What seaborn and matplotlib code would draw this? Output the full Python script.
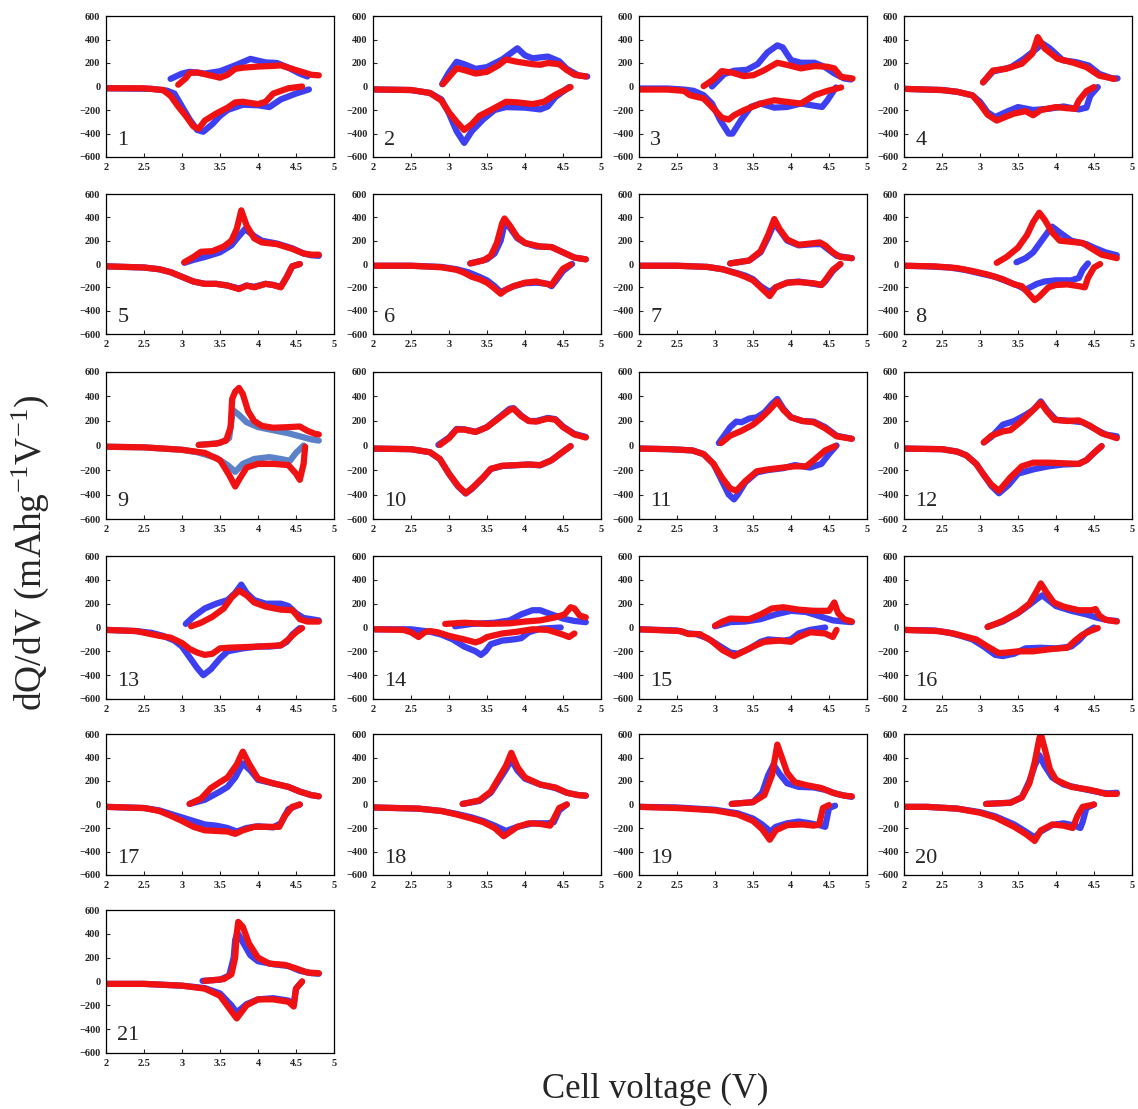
import pandas as pd
import matplotlib
matplotlib.use("Agg")
import matplotlib.pyplot as plt
import seaborn as sns

# (voltage, dQ/dV); b = blue, r = red, u = charge branch, d = discharge branch
b1u = [(2.85, 65), (3.0, 110), (3.1, 125), (3.3, 110), (3.5, 130), (3.7, 180), (3.9, 235), (4.0, 220), (4.1, 205), (4.25, 200), (4.4, 160), (4.55, 110), (4.65, 85)]
b1d = [(4.67, -25), (4.5, -60), (4.3, -110), (4.15, -175), (4.0, -160), (3.8, -155), (3.6, -200), (3.5, -250), (3.4, -320), (3.28, -385), (3.2, -370), (3.1, -280), (3.0, -170), (2.9, -60), (2.8, -35), (2.6, -20), (2.0, -15)]
r1u = [(2.95, 15), (3.05, 70), (3.1, 115), (3.2, 120), (3.4, 90), (3.5, 75), (3.6, 100), (3.7, 150), (3.8, 160), (4.0, 170), (4.2, 175), (4.3, 180), (4.4, 160), (4.6, 120), (4.7, 100), (4.8, 95)]
r1d = [(4.58, 0), (4.4, -15), (4.2, -60), (4.1, -130), (4.0, -150), (3.8, -130), (3.7, -135), (3.6, -180), (3.45, -230), (3.3, -290), (3.22, -360), (3.15, -340), (3.05, -250), (2.95, -170), (2.85, -80), (2.75, -30), (2.5, -15), (2.0, -15)]

b2u = [(2.91, 20), (3.0, 120), (3.1, 210), (3.2, 190), (3.35, 150), (3.5, 165), (3.7, 230), (3.9, 325), (4.0, 265), (4.1, 240), (4.3, 255), (4.45, 215), (4.55, 150), (4.7, 95), (4.82, 85)]
b2d = [(4.58, -5), (4.4, -90), (4.3, -170), (4.2, -195), (4.0, -180), (3.75, -175), (3.6, -200), (3.45, -280), (3.3, -380), (3.2, -480), (3.1, -380), (3.0, -230), (2.9, -110), (2.75, -55), (2.5, -30), (2.0, -25)]
r2u = [(2.92, 20), (3.0, 80), (3.1, 155), (3.2, 140), (3.35, 110), (3.5, 125), (3.65, 180), (3.75, 230), (3.9, 210), (4.1, 190), (4.2, 185), (4.3, 200), (4.45, 190), (4.55, 140), (4.65, 100), (4.8, 85)]
r2d = [(4.6, -5), (4.4, -70), (4.25, -130), (4.1, -150), (3.9, -135), (3.75, -130), (3.55, -200), (3.4, -250), (3.3, -320), (3.2, -370), (3.1, -300), (3.0, -220), (2.9, -120), (2.75, -55), (2.5, -30), (2.0, -25)]

b3u = [(2.96, 0), (3.12, 105), (3.25, 134), (3.42, 142), (3.56, 190), (3.69, 290), (3.82, 350), (3.89, 333), (4.0, 225), (4.13, 202), (4.31, 202), (4.44, 168), (4.57, 111), (4.7, 68), (4.79, 60)]
b3d = [(4.59, -8), (4.48, -117), (4.41, -174), (4.35, -168), (4.13, -145), (3.95, -174), (3.78, -180), (3.6, -145), (3.47, -174), (3.34, -288), (3.23, -401), (3.18, -401), (3.07, -288), (2.96, -145), (2.85, -74), (2.72, -37), (2.59, -26), (2.37, -17), (2.0, -17)]
r3u = [(2.85, 3), (2.98, 60), (3.09, 131), (3.23, 117), (3.38, 88), (3.51, 97), (3.65, 139), (3.82, 202), (3.96, 182), (4.13, 154), (4.31, 174), (4.48, 168), (4.57, 154), (4.66, 82), (4.81, 68)]
r3d = [(4.66, -8), (4.48, -37), (4.31, -74), (4.13, -145), (3.95, -131), (3.78, -117), (3.6, -145), (3.38, -202), (3.25, -245), (3.18, -282), (3.09, -265), (2.98, -188), (2.85, -102), (2.76, -88), (2.67, -74), (2.59, -37), (2.37, -26), (2.0, -26)]

b4u = [(3.04, 35), (3.17, 127), (3.41, 165), (3.58, 237), (3.75, 324), (3.82, 367), (3.92, 324), (4.09, 223), (4.26, 208), (4.43, 179), (4.57, 107), (4.74, 69), (4.81, 69)]
b4d = [(4.55, -5), (4.45, -80), (4.4, -180), (4.3, -195), (4.1, -170), (3.9, -190), (3.7, -200), (3.5, -175), (3.35, -215), (3.2, -260), (3.1, -220), (3.0, -130), (2.9, -75), (2.7, -45), (2.5, -30), (2.0, -20)]
r4u = [(3.04, 35), (3.17, 136), (3.34, 150), (3.55, 194), (3.69, 280), (3.76, 420), (3.85, 324), (4.02, 237), (4.23, 202), (4.4, 165), (4.57, 92), (4.77, 64)]
r4d = [(4.5, -5), (4.4, -40), (4.3, -120), (4.25, -190), (4.15, -185), (4.0, -175), (3.8, -200), (3.7, -245), (3.6, -210), (3.45, -230), (3.35, -255), (3.22, -290), (3.1, -240), (3.0, -150), (2.9, -75), (2.7, -45), (2.5, -30), (2.0, -20)]

b5u = [(3.03, 10), (3.15, 35), (3.3, 60), (3.5, 100), (3.65, 160), (3.75, 240), (3.83, 300), (3.95, 240), (4.05, 200), (4.25, 175), (4.45, 135), (4.6, 90), (4.7, 75), (4.8, 70)]
b5d = [(4.55, 0), (4.45, -20), (4.38, -110), (4.3, -195), (4.2, -180), (4.1, -170), (3.95, -195), (3.85, -185), (3.75, -210), (3.6, -185), (3.45, -170), (3.3, -170), (3.15, -150), (3.0, -110), (2.85, -70), (2.7, -45), (2.5, -30), (2.0, -20)]
r5u = [(3.03, 15), (3.15, 60), (3.25, 105), (3.4, 110), (3.55, 150), (3.65, 200), (3.72, 300), (3.78, 460), (3.85, 330), (3.95, 220), (4.05, 185), (4.25, 170), (4.45, 130), (4.6, 90), (4.7, 80), (4.8, 80)]
r5d = [(4.55, 0), (4.45, -20), (4.38, -110), (4.3, -200), (4.2, -180), (4.1, -170), (3.95, -200), (3.85, -185), (3.75, -215), (3.6, -185), (3.45, -170), (3.3, -170), (3.15, -150), (3.0, -110), (2.85, -70), (2.7, -45), (2.5, -30), (2.0, -20)]

b6u = [(3.28, 5), (3.5, 40), (3.6, 90), (3.68, 200), (3.73, 340), (3.78, 330), (3.9, 220), (4.0, 180), (4.15, 150), (4.35, 145), (4.5, 100), (4.65, 55), (4.8, 40)]
b6d = [(4.62, 0), (4.5, -60), (4.4, -150), (4.35, -190), (4.3, -170), (4.15, -160), (4.0, -165), (3.85, -190), (3.75, -220), (3.68, -240), (3.6, -190), (3.5, -140), (3.4, -110), (3.25, -70), (3.1, -45), (2.9, -25), (2.5, -15), (2.0, -15)]
r6u = [(3.28, 5), (3.45, 30), (3.55, 70), (3.63, 180), (3.7, 350), (3.73, 390), (3.8, 330), (3.9, 230), (4.0, 180), (4.2, 150), (4.35, 145), (4.5, 100), (4.65, 55), (4.8, 40)]
r6d = [(4.6, -5), (4.5, -40), (4.4, -130), (4.35, -180), (4.28, -170), (4.15, -150), (4.0, -160), (3.85, -190), (3.75, -220), (3.68, -255), (3.6, -210), (3.5, -160), (3.4, -130), (3.3, -110), (3.2, -75), (3.1, -50), (2.9, -28), (2.5, -15), (2.0, -15)]

b7u = [(3.2, 5), (3.45, 30), (3.6, 100), (3.7, 230), (3.78, 350), (3.85, 290), (3.95, 200), (4.1, 160), (4.3, 170), (4.4, 170), (4.5, 120), (4.6, 70), (4.8, 50)]
b7d = [(4.65, 0), (4.55, -60), (4.45, -150), (4.4, -180), (4.3, -170), (4.1, -150), (3.95, -160), (3.8, -200), (3.72, -240), (3.6, -190), (3.5, -130), (3.4, -100), (3.3, -80), (3.1, -45), (2.9, -25), (2.5, -15), (2.0, -15)]
r7u = [(3.2, 5), (3.45, 30), (3.6, 110), (3.7, 250), (3.78, 385), (3.85, 300), (3.95, 210), (4.1, 165), (4.25, 175), (4.38, 185), (4.45, 160), (4.55, 100), (4.65, 60), (4.8, 50)]
r7d = [(4.65, 0), (4.55, -50), (4.45, -140), (4.4, -180), (4.3, -165), (4.1, -155), (3.95, -160), (3.8, -200), (3.72, -275), (3.6, -200), (3.5, -140), (3.4, -110), (3.3, -85), (3.1, -45), (2.9, -25), (2.5, -15), (2.0, -15)]

b8u = [(3.48, 15), (3.6, 50), (3.7, 100), (3.8, 190), (3.9, 280), (3.95, 320), (4.05, 270), (4.2, 200), (4.4, 170), (4.5, 140), (4.65, 100), (4.8, 75)]
b8d = [(4.42, 5), (4.35, -50), (4.3, -120), (4.2, -140), (4.0, -140), (3.85, -150), (3.75, -170), (3.6, -220), (3.5, -185), (3.4, -160), (3.2, -110), (3.0, -80), (2.8, -50), (2.6, -30), (2.3, -20), (2.0, -15)]
r8u = [(3.22, 10), (3.35, 60), (3.5, 140), (3.62, 250), (3.7, 360), (3.78, 440), (3.85, 380), (3.95, 270), (4.05, 200), (4.2, 190), (4.35, 180), (4.5, 120), (4.6, 80), (4.8, 50)]
r8d = [(4.58, 0), (4.5, -30), (4.42, -120), (4.38, -200), (4.3, -190), (4.15, -175), (4.0, -180), (3.9, -200), (3.78, -280), (3.72, -310), (3.65, -260), (3.55, -190), (3.45, -175), (3.3, -130), (3.1, -90), (2.9, -60), (2.7, -35), (2.4, -20), (2.0, -15)]

b9u = [(3.22, 5), (3.5, 20), (3.62, 60), (3.67, 290), (3.75, 250), (3.85, 190), (4.0, 150), (4.2, 125), (4.4, 100), (4.55, 75), (4.7, 50), (4.8, 40)]
b9d = [(4.6, 0), (4.5, -60), (4.42, -125), (4.3, -110), (4.15, -95), (3.95, -110), (3.8, -150), (3.7, -215), (3.6, -160), (3.45, -100), (3.2, -55), (3.0, -35), (2.5, -15), (2.0, -10)]
r9u = [(3.22, 5), (3.45, 15), (3.58, 40), (3.64, 150), (3.66, 380), (3.7, 440), (3.75, 470), (3.8, 420), (3.87, 280), (3.95, 200), (4.05, 160), (4.2, 145), (4.4, 150), (4.55, 155), (4.65, 120), (4.75, 95), (4.8, 90)]
r9d = [(4.62, -10), (4.6, -150), (4.55, -280), (4.5, -230), (4.4, -160), (4.2, -150), (4.0, -150), (3.85, -180), (3.75, -280), (3.7, -335), (3.62, -240), (3.5, -120), (3.3, -60), (3.0, -35), (2.5, -15), (2.0, -10)]

b10u = [(2.86, 5), (3.0, 65), (3.1, 135), (3.2, 132), (3.35, 112), (3.5, 150), (3.65, 225), (3.8, 300), (3.85, 305), (3.95, 245), (4.05, 200), (4.15, 200), (4.3, 225), (4.4, 215), (4.5, 155), (4.65, 95), (4.8, 70)]
b10d = [(4.6, -5), (4.5, -50), (4.35, -120), (4.2, -162), (4.05, -155), (3.9, -160), (3.7, -168), (3.55, -192), (3.45, -262), (3.3, -355), (3.22, -392), (3.12, -335), (3.0, -232), (2.88, -112), (2.75, -55), (2.5, -30), (2.0, -25)]
r10u = [(2.88, 5), (3.0, 60), (3.1, 130), (3.2, 130), (3.35, 110), (3.5, 150), (3.65, 220), (3.8, 290), (3.85, 300), (3.95, 240), (4.05, 200), (4.15, 195), (4.3, 220), (4.4, 210), (4.5, 150), (4.65, 90), (4.8, 65)]
r10d = [(4.6, -5), (4.5, -50), (4.35, -120), (4.2, -160), (4.05, -155), (3.9, -160), (3.7, -165), (3.55, -190), (3.45, -260), (3.3, -350), (3.22, -390), (3.12, -330), (3.0, -230), (2.88, -110), (2.75, -55), (2.5, -30), (2.0, -25)]

b11u = [(3.05, 20), (3.12, 80), (3.2, 150), (3.28, 195), (3.35, 190), (3.45, 220), (3.55, 230), (3.65, 270), (3.75, 340), (3.82, 380), (3.9, 300), (4.0, 230), (4.15, 200), (4.3, 195), (4.45, 150), (4.6, 80), (4.8, 55)]
b11d = [(4.6, 0), (4.5, -70), (4.4, -150), (4.25, -180), (4.05, -160), (3.9, -185), (3.7, -200), (3.55, -220), (3.4, -300), (3.3, -400), (3.25, -440), (3.18, -400), (3.1, -300), (2.98, -150), (2.85, -70), (2.7, -40), (2.4, -30), (2.0, -25)]
r11u = [(3.08, 20), (3.2, 80), (3.35, 120), (3.5, 170), (3.6, 220), (3.7, 280), (3.82, 360), (3.9, 290), (4.0, 230), (4.15, 200), (4.3, 190), (4.45, 140), (4.6, 75), (4.8, 55)]
r11d = [(4.58, -5), (4.45, -40), (4.3, -120), (4.2, -170), (4.05, -170), (3.9, -180), (3.7, -195), (3.55, -210), (3.4, -290), (3.28, -370), (3.2, -350), (3.1, -270), (2.98, -150), (2.85, -70), (2.7, -40), (2.4, -30), (2.0, -25)]

b12u = [(3.05, 25), (3.15, 70), (3.3, 170), (3.45, 200), (3.6, 250), (3.7, 290), (3.8, 360), (3.88, 290), (4.0, 210), (4.2, 200), (4.35, 190), (4.5, 140), (4.65, 90), (4.8, 75)]
b12d = [(4.6, -5), (4.5, -60), (4.4, -120), (4.3, -150), (4.1, -155), (3.9, -170), (3.7, -195), (3.5, -230), (3.38, -320), (3.25, -390), (3.15, -330), (3.05, -240), (2.95, -150), (2.82, -80), (2.7, -50), (2.5, -30), (2.0, -25)]
r12u = [(3.05, 25), (3.15, 80), (3.3, 115), (3.4, 125), (3.55, 200), (3.7, 290), (3.8, 350), (3.88, 280), (3.98, 210), (4.15, 200), (4.3, 205), (4.45, 160), (4.6, 100), (4.8, 60)]
r12d = [(4.6, -5), (4.5, -60), (4.4, -120), (4.3, -150), (4.1, -145), (3.9, -140), (3.7, -140), (3.55, -170), (3.4, -260), (3.25, -370), (3.15, -320), (3.05, -240), (2.95, -150), (2.82, -80), (2.7, -50), (2.5, -30), (2.0, -25)]

b13u = [(3.05, 30), (3.15, 90), (3.3, 160), (3.45, 200), (3.6, 230), (3.7, 290), (3.78, 360), (3.85, 290), (3.95, 230), (4.1, 200), (4.3, 200), (4.4, 180), (4.5, 120), (4.6, 80), (4.8, 60)]
b13d = [(4.55, -5), (4.45, -60), (4.38, -120), (4.3, -150), (4.15, -160), (4.0, -160), (3.8, -175), (3.6, -200), (3.5, -260), (3.38, -350), (3.28, -400), (3.2, -340), (3.1, -250), (3.0, -160), (2.9, -110), (2.75, -70), (2.6, -45), (2.4, -30), (2.0, -20)]
r13u = [(3.12, 10), (3.25, 40), (3.4, 90), (3.55, 160), (3.65, 250), (3.75, 310), (3.85, 270), (3.95, 210), (4.1, 175), (4.3, 150), (4.45, 145), (4.5, 110), (4.55, 70), (4.65, 50), (4.8, 50)]
r13d = [(4.58, -5), (4.5, -40), (4.4, -100), (4.3, -150), (4.15, -155), (4.0, -160), (3.8, -165), (3.6, -170), (3.5, -175), (3.4, -220), (3.3, -230), (3.2, -210), (3.1, -180), (3.0, -130), (2.85, -85), (2.7, -70), (2.55, -50), (2.4, -30), (2.0, -20)]

b14u = [(3.08, 10), (3.3, 30), (3.6, 40), (3.8, 60), (3.95, 110), (4.1, 145), (4.2, 145), (4.35, 110), (4.5, 75), (4.65, 55), (4.8, 45)]
b14d = [(4.47, 0), (4.2, -10), (4.05, -40), (3.95, -90), (3.85, -100), (3.7, -110), (3.55, -140), (3.48, -200), (3.42, -230), (3.35, -200), (3.2, -160), (3.05, -100), (2.9, -60), (2.75, -35), (2.5, -15), (2.0, -15)]
r14u = [(2.95, 30), (3.2, 40), (3.5, 30), (3.8, 35), (4.0, 50), (4.2, 60), (4.4, 85), (4.52, 110), (4.6, 170), (4.65, 160), (4.72, 100), (4.8, 85)]
r14d = [(4.65, -50), (4.58, -80), (4.5, -60), (4.3, -20), (4.1, -15), (3.9, -35), (3.7, -50), (3.5, -80), (3.42, -110), (3.35, -125), (3.2, -100), (3.0, -70), (2.85, -40), (2.75, -30), (2.68, -40), (2.6, -80), (2.5, -40), (2.4, -20), (2.0, -15)]

b15u = [(3.0, 10), (3.2, 45), (3.4, 50), (3.6, 70), (3.8, 110), (4.0, 140), (4.2, 130), (4.4, 90), (4.55, 60), (4.7, 50), (4.8, 45)]
b15d = [(4.45, 0), (4.25, -20), (4.1, -50), (4.0, -100), (3.9, -110), (3.7, -100), (3.6, -120), (3.45, -180), (3.3, -220), (3.2, -210), (3.05, -150), (2.9, -90), (2.75, -55), (2.65, -50), (2.5, -25), (2.0, -15)]
r15u = [(3.0, 15), (3.1, 50), (3.2, 75), (3.45, 70), (3.6, 110), (3.75, 160), (3.9, 170), (4.1, 150), (4.3, 140), (4.5, 140), (4.57, 210), (4.62, 120), (4.7, 70), (4.8, 50)]
r15d = [(4.6, -20), (4.55, -80), (4.45, -50), (4.25, -40), (4.1, -80), (4.0, -120), (3.85, -110), (3.65, -120), (3.5, -160), (3.38, -200), (3.25, -240), (3.1, -190), (2.95, -110), (2.8, -55), (2.65, -55), (2.55, -30), (2.0, -15)]

b16u = [(3.1, 5), (3.3, 50), (3.5, 120), (3.65, 190), (3.75, 240), (3.82, 270), (3.9, 230), (4.0, 180), (4.2, 140), (4.4, 110), (4.55, 80), (4.7, 60), (4.8, 55)]
b16d = [(4.5, 0), (4.4, -40), (4.3, -110), (4.2, -160), (4.0, -175), (3.8, -170), (3.6, -175), (3.45, -220), (3.3, -240), (3.2, -230), (3.05, -160), (2.9, -100), (2.75, -70), (2.6, -45), (2.4, -25), (2.0, -20)]
r16u = [(3.1, 5), (3.3, 55), (3.5, 125), (3.65, 200), (3.75, 310), (3.8, 370), (3.87, 300), (3.97, 210), (4.1, 175), (4.3, 145), (4.47, 145), (4.52, 155), (4.57, 100), (4.65, 65), (4.8, 50)]
r16d = [(4.55, -5), (4.45, -30), (4.35, -60), (4.25, -110), (4.15, -170), (3.95, -180), (3.7, -200), (3.5, -200), (3.35, -210), (3.25, -215), (3.1, -160), (2.95, -100), (2.8, -75), (2.65, -50), (2.45, -30), (2.0, -20)]

b17u = [(3.1, 5), (3.3, 40), (3.5, 110), (3.6, 150), (3.7, 230), (3.8, 350), (3.9, 290), (4.0, 210), (4.2, 180), (4.4, 150), (4.55, 110), (4.7, 80), (4.8, 70)]
b17d = [(4.55, 0), (4.4, -40), (4.3, -160), (4.2, -195), (4.0, -185), (3.85, -200), (3.72, -230), (3.6, -200), (3.45, -180), (3.3, -170), (3.1, -130), (2.9, -90), (2.7, -50), (2.5, -30), (2.0, -20)]
r17u = [(3.1, 5), (3.25, 50), (3.38, 140), (3.5, 190), (3.6, 230), (3.72, 340), (3.8, 450), (3.88, 350), (4.0, 220), (4.2, 180), (4.4, 150), (4.55, 110), (4.7, 80), (4.8, 70)]
r17d = [(4.55, 0), (4.45, -20), (4.35, -100), (4.28, -190), (4.1, -190), (3.95, -190), (3.8, -220), (3.7, -250), (3.6, -230), (3.45, -225), (3.3, -220), (3.15, -190), (3.0, -140), (2.85, -95), (2.7, -55), (2.5, -30), (2.0, -20)]

b18u = [(3.18, 5), (3.4, 30), (3.55, 100), (3.65, 200), (3.75, 300), (3.82, 380), (3.9, 290), (4.0, 220), (4.2, 170), (4.4, 140), (4.55, 100), (4.7, 80), (4.8, 75)]
b18d = [(4.55, 0), (4.45, -50), (4.38, -150), (4.3, -160), (4.1, -160), (3.9, -190), (3.75, -225), (3.6, -180), (3.45, -140), (3.3, -110), (3.1, -80), (2.9, -55), (2.6, -35), (2.0, -25)]
r18u = [(3.18, 5), (3.4, 35), (3.55, 110), (3.65, 220), (3.75, 330), (3.82, 440), (3.9, 320), (4.0, 230), (4.2, 170), (4.4, 145), (4.55, 100), (4.7, 80), (4.8, 75)]
r18d = [(4.55, 0), (4.45, -30), (4.38, -120), (4.33, -180), (4.2, -165), (4.05, -160), (3.9, -190), (3.72, -270), (3.6, -200), (3.45, -150), (3.3, -120), (3.1, -85), (2.9, -55), (2.6, -35), (2.0, -25)]

b19u = [(3.22, 5), (3.5, 20), (3.62, 100), (3.7, 250), (3.77, 340), (3.85, 260), (3.95, 180), (4.1, 150), (4.3, 145), (4.45, 125), (4.6, 90), (4.75, 70), (4.8, 65)]
b19d = [(4.58, -10), (4.5, -30), (4.45, -190), (4.4, -180), (4.25, -160), (4.1, -145), (3.95, -160), (3.8, -190), (3.73, -230), (3.62, -170), (3.5, -120), (3.3, -75), (3.0, -45), (2.5, -25), (2.0, -20)]
r19u = [(3.22, 5), (3.5, 20), (3.65, 80), (3.75, 250), (3.82, 510), (3.88, 400), (3.95, 270), (4.05, 190), (4.2, 165), (4.4, 140), (4.55, 100), (4.7, 75), (4.8, 70)]
r19d = [(4.5, -5), (4.42, -30), (4.37, -170), (4.3, -180), (4.15, -170), (3.95, -175), (3.8, -220), (3.72, -300), (3.62, -210), (3.5, -140), (3.3, -85), (3.0, -50), (2.5, -30), (2.0, -20)]

b20u = [(3.08, 5), (3.4, 15), (3.55, 60), (3.65, 200), (3.72, 330), (3.78, 420), (3.85, 330), (3.95, 230), (4.1, 170), (4.3, 140), (4.45, 120), (4.6, 100), (4.7, 95), (4.8, 100)]
b20d = [(4.5, 0), (4.4, -30), (4.35, -150), (4.32, -200), (4.25, -180), (4.1, -160), (3.95, -175), (3.8, -230), (3.72, -280), (3.6, -230), (3.45, -170), (3.2, -100), (3.0, -65), (2.7, -35), (2.3, -20), (2.0, -20)]
r20u = [(3.08, 5), (3.4, 15), (3.55, 60), (3.65, 180), (3.72, 360), (3.78, 560), (3.8, 600), (3.85, 480), (3.92, 300), (4.0, 210), (4.2, 150), (4.4, 130), (4.55, 110), (4.65, 90), (4.8, 90)]
r20d = [(4.5, 0), (4.35, -20), (4.28, -100), (4.22, -200), (4.1, -180), (3.95, -170), (3.8, -220), (3.72, -310), (3.6, -250), (3.45, -190), (3.2, -110), (3.0, -70), (2.7, -35), (2.3, -20), (2.0, -20)]

b21u = [(3.27, 5), (3.5, 15), (3.62, 50), (3.68, 200), (3.7, 350), (3.73, 410), (3.8, 330), (3.9, 220), (4.0, 170), (4.2, 145), (4.4, 130), (4.55, 90), (4.7, 70), (4.8, 65)]
b21d = [(4.58, 0), (4.5, -60), (4.47, -190), (4.4, -160), (4.2, -140), (4.0, -150), (3.85, -190), (3.72, -260), (3.65, -200), (3.5, -100), (3.3, -55), (3.0, -35), (2.5, -20), (2.0, -20)]
r21u = [(3.3, 5), (3.55, 20), (3.65, 60), (3.7, 200), (3.72, 400), (3.74, 500), (3.8, 460), (3.88, 320), (4.0, 200), (4.15, 150), (4.35, 140), (4.5, 110), (4.65, 75), (4.8, 70)]
r21d = [(4.58, 0), (4.5, -60), (4.47, -210), (4.4, -170), (4.2, -150), (4.0, -150), (3.85, -200), (3.72, -310), (3.65, -250), (3.5, -120), (3.3, -60), (3.0, -35), (2.5, -20), (2.0, -20)]

x_ticks = [2, 2.5, 3, 3.5, 4, 4.5, 5]
x_labels = ['2', '2.5', '3', '3.5', '4', '4.5', '5']
y_ticks = [-600, -400, -200, 0, 200, 400, 600]

panels = [
    (b1u, b1d, r1u, r1d), (b2u, b2d, r2u, r2d), (b3u, b3d, r3u, r3d), (b4u, b4d, r4u, r4d),
    (b5u, b5d, r5u, r5d), (b6u, b6d, r6u, r6d), (b7u, b7d, r7u, r7d), (b8u, b8d, r8u, r8d),
    (b9u, b9d, r9u, r9d), (b10u, b10d, r10u, r10d), (b11u, b11d, r11u, r11d), (b12u, b12d, r12u, r12d),
    (b13u, b13d, r13u, r13d), (b14u, b14d, r14u, r14d), (b15u, b15d, r15u, r15d), (b16u, b16d, r16u, r16d),
    (b17u, b17d, r17u, r17d), (b18u, b18d, r18u, r18d), (b19u, b19d, r19u, r19d), (b20u, b20d, r20u, r20d),
    (b21u, b21d, r21u, r21d),
]

BLUE = '#3d3ff0'
BLUE9 = '#5b82c8'
RED = '#f01212'

sns.set_style("ticks")
plt.rcParams['font.family'] = ['Liberation Serif', 'DejaVu Serif']
plt.rcParams['mathtext.fontset'] = 'custom'
plt.rcParams['mathtext.rm'] = 'Liberation Serif'
plt.rcParams['mathtext.it'] = 'Liberation Serif:italic'

W, H = 1138, 1109
col_left = [106, 373, 639, 904]
col_w = 228
row_top = [16, 194, 372, 556, 734, 910]
row_bot = [157, 334, 519, 699, 875, 1053]


def draw(ax, pts, color):
    df = pd.DataFrame(pts, columns=['V', 'dQdV'])
    sns.lineplot(data=df, x='V', y='dQdV', sort=False, estimator=None,
                 color=color, lw=4.5, ax=ax, solid_capstyle='round',
                 solid_joinstyle='round')


fig = plt.figure(figsize=(W / 100, H / 100), dpi=100)

for i, (bu, bd, ru, rd) in enumerate(panels):
    r, c = divmod(i, 4)
    left = col_left[c] / W
    bottom = 1 - row_bot[r] / H
    height = (row_bot[r] - row_top[r]) / H
    ax = fig.add_axes([left, bottom, col_w / W, height])
    bc = BLUE9 if i == 8 else BLUE
    draw(ax, bu, bc)
    draw(ax, bd, bc)
    draw(ax, ru, RED)
    draw(ax, rd, RED)
    ax.set_xlim(2, 5)
    ax.set_ylim(-600, 600)
    ax.set_xticks(x_ticks)
    ax.set_xticklabels(x_labels)
    ax.set_yticks(y_ticks)
    ax.set_xlabel('')
    ax.set_ylabel('')
    ax.tick_params(direction='in', length=3, width=0.8, labelsize=7.5, pad=4)
    for lab in ax.get_xticklabels() + ax.get_yticklabels():
        lab.set_fontweight('bold')
    for sp in ax.spines.values():
        sp.set_linewidth(0.9)
        sp.set_color('black')
    ax.text(0.05, 0.12, str(i + 1), transform=ax.transAxes, fontsize=16,
            ha='left', va='center')

fig.text(30 / W, 1 - 553 / H, 'dQ/dV (mAhg$^{\\mathregular{-1}}$V$^{\\mathregular{-1}}$)',
         rotation=90, ha='center', va='center', fontsize=27)
fig.text(655 / W, 1 - 1089 / H, 'Cell voltage (V)', ha='center', va='center',
         fontsize=25)

fig.savefig('out.png', dpi=100)
